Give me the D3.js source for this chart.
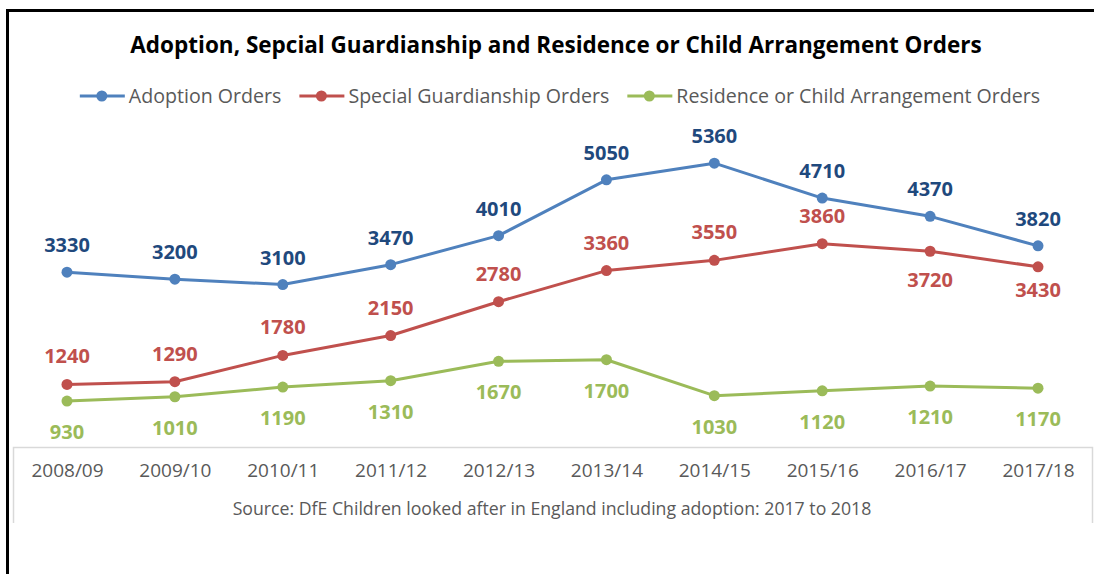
<!DOCTYPE html>
<html>
<head>
<meta charset="utf-8">
<script src="https://cdnjs.cloudflare.com/ajax/libs/d3/7.8.5/d3.min.js"></script>
<style>
  body { margin: 0; background: #fff; }
  svg { display: block; font-family: "Open Sans", "Noto Sans", sans-serif; }
</style>
</head>
<body>
<div id="chart"></div>
<script>
// chart data
var categories = ["2008/09", "2009/10", "2010/11", "2011/12", "2012/13",
                  "2013/14", "2014/15", "2015/16", "2016/17", "2017/18"];
var adoptionOrders = [3330, 3200, 3100, 3470, 4010, 5050, 5360, 4710, 4370, 3820];
var guardianshipOrders = [1240, 1290, 1780, 2150, 2780, 3360, 3550, 3860, 3720, 3430];
var residenceOrders = [930, 1010, 1190, 1310, 1670, 1700, 1030, 1120, 1210, 1170];
var seriesNames = ["Adoption Orders", "Special Guardianship Orders", "Residence or Child Arrangement Orders"];

var W = 1094, H = 574;

// series setup: line colour, label colour, label offset per point (negative = above)
var series = [
	{name: seriesNames[0], values: adoptionOrders, line: "#4F81BD", label: "#1F497D",
	 dy: function(i) { return -20; }},
	{name: seriesNames[1], values: guardianshipOrders, line: "#C0504D", label: "#C0504D",
	 dy: function(i) { return i == 8 ? 36 : (i == 9 ? 30 : -21); }},
	{name: seriesNames[2], values: residenceOrders, line: "#9BBB59", label: "#9BBB59",
	 dy: function(i) { return 38; }}
];

var svg = d3.select("#chart").append("svg")
	.attr("width", W)
	.attr("height", H);

// outer frame (top and left edge visible)
svg.append("path")
	.attr("d", "M7.5,574 L7.5,10.5 L1094,10.5")
	.attr("fill", "none")
	.attr("stroke", "#000")
	.attr("stroke-width", 3);

var x = d3.scalePoint()
	.domain(categories)
	.range([67, 1038]);

var y = d3.scaleLinear()
	.domain([0, 6000])
	.range([451, 128.8]);

// title
svg.append("text")
	.attr("x", 556)
	.attr("y", 53)
	.attr("text-anchor", "middle")
	.attr("font-size", 22.5)
	.attr("font-weight", "bold")
	.attr("fill", "#000")
	.text("Adoption, Sepcial Guardianship and Residence or Child Arrangement Orders");

// legend
var legend = svg.append("g");
var lx = 0;
series.forEach(function(s) {
	var item = legend.append("g").attr("transform", "translate(" + lx + ",0)");
	item.append("line")
		.attr("x1", 0).attr("x2", 45)
		.attr("y1", 0).attr("y2", 0)
		.attr("stroke", s.line).attr("stroke-width", 3);
	item.append("circle")
		.attr("cx", 22).attr("cy", 0).attr("r", 5.5)
		.attr("fill", s.line);
	var t = item.append("text")
		.attr("x", 49).attr("y", 7)
		.attr("font-size", 19.6)
		.attr("fill", "#595959")
		.text(s.name);
	lx += 49 + t.node().getComputedTextLength() + 18;
});
var legendW = lx - 18;
legend.attr("transform", "translate(" + (560 - legendW / 2) + ",96)");

// category box (data-table style axis)
svg.append("path")
	.attr("d", "M13.5,523 L13.5,447.5 L1092.5,447.5 L1092.5,523")
	.attr("fill", "none")
	.attr("stroke", "#D9D9D9")
	.attr("stroke-width", 1.5);

var xAxis = d3.axisBottom(x).tickSize(0).tickPadding(0);
var axisG = svg.append("g")
	.attr("transform", "translate(0,463)")
	.call(xAxis);
axisG.select(".domain").remove();
axisG.selectAll("text")
	.attr("font-family", "Open Sans, Noto Sans, sans-serif")
	.attr("font-size", 19)
	.attr("fill", "#595959");

// source note
svg.append("text")
	.attr("x", 552)
	.attr("y", 515)
	.attr("text-anchor", "middle")
	.attr("font-size", 17.7)
	.attr("fill", "#595959")
	.text("Source: DfE Children looked after in England including adoption: 2017 to 2018");

// lines, markers and value labels
var line = d3.line()
	.x(function(d, i) { return x(categories[i]); })
	.y(function(d) { return y(d); })
	.curve(d3.curveLinear);

series.forEach(function(s) {
	var g = svg.append("g");
	g.append("path")
		.attr("d", line(s.values))
		.attr("fill", "none")
		.attr("stroke", s.line)
		.attr("stroke-width", 3)
		.attr("stroke-linejoin", "round");
	g.selectAll("circle")
		.data(s.values)
		.enter().append("circle")
		.attr("cx", function(d, i) { return x(categories[i]); })
		.attr("cy", function(d) { return y(d); })
		.attr("r", 5.5)
		.attr("fill", s.line);
	g.selectAll("text")
		.data(s.values)
		.enter().append("text")
		.attr("x", function(d, i) { return x(categories[i]); })
		.attr("y", function(d, i) { return y(d) + s.dy(i); })
		.attr("text-anchor", "middle")
		.attr("font-size", 20)
		.attr("font-weight", "bold")
		.attr("fill", s.label)
		.text(function(d) { return d; });
});
</script>
</body>
</html>
